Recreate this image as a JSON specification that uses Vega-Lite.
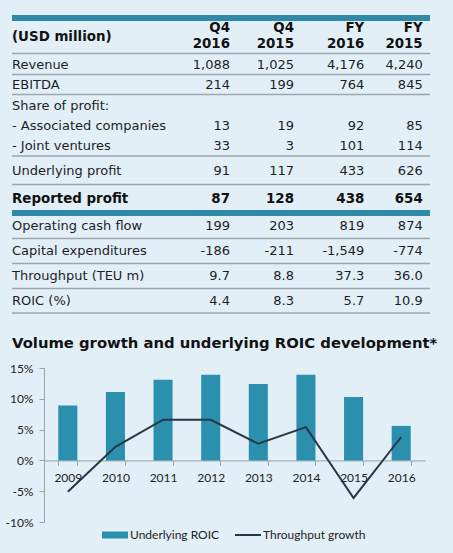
{
  "$schema": "https://vega.github.io/schema/vega-lite/v6.json",
  "width": 381,
  "height": 522,
  "autosize": {"type": "none"},
  "padding": {"left": 44, "top": 0, "right": 28, "bottom": 31},
  "background": "#e2eff7",
  "config": {"view": {"stroke": null}},
  "datasets": {
    "cells": [
      {"r": 1, "c": 1, "t": "Q4"}, {"r": 1, "c": 2, "t": "Q4"}, {"r": 1, "c": 3, "t": "FY"}, {"r": 1, "c": 4, "t": "FY"},
      {"r": 2, "c": 0, "t": "(USD million)"},
      {"r": 3, "c": 1, "t": "2016"}, {"r": 3, "c": 2, "t": "2015"}, {"r": 3, "c": 3, "t": "2016"}, {"r": 3, "c": 4, "t": "2015"},
      {"r": 5, "c": 0, "t": "Revenue"}, {"r": 5, "c": 1, "t": "1,088"}, {"r": 5, "c": 2, "t": "1,025"}, {"r": 5, "c": 3, "t": "4,176"}, {"r": 5, "c": 4, "t": "4,240"},
      {"r": 7, "c": 0, "t": "EBITDA"}, {"r": 7, "c": 1, "t": "214"}, {"r": 7, "c": 2, "t": "199"}, {"r": 7, "c": 3, "t": "764"}, {"r": 7, "c": 4, "t": "845"},
      {"r": 9, "c": 0, "t": "Share of profit:"},
      {"r": 10, "c": 0, "t": "- Associated companies"}, {"r": 10, "c": 1, "t": "13"}, {"r": 10, "c": 2, "t": "19"}, {"r": 10, "c": 3, "t": "92"}, {"r": 10, "c": 4, "t": "85"},
      {"r": 11, "c": 0, "t": "- Joint ventures"}, {"r": 11, "c": 1, "t": "33"}, {"r": 11, "c": 2, "t": "3"}, {"r": 11, "c": 3, "t": "101"}, {"r": 11, "c": 4, "t": "114"},
      {"r": 13, "c": 0, "t": "Underlying profit"}, {"r": 13, "c": 1, "t": "91"}, {"r": 13, "c": 2, "t": "117"}, {"r": 13, "c": 3, "t": "433"}, {"r": 13, "c": 4, "t": "626"},
      {"r": 15, "c": 0, "t": "Reported profit"}, {"r": 15, "c": 1, "t": "87"}, {"r": 15, "c": 2, "t": "128"}, {"r": 15, "c": 3, "t": "438"}, {"r": 15, "c": 4, "t": "654"},
      {"r": 17, "c": 0, "t": "Operating cash flow"}, {"r": 17, "c": 1, "t": "199"}, {"r": 17, "c": 2, "t": "203"}, {"r": 17, "c": 3, "t": "819"}, {"r": 17, "c": 4, "t": "874"},
      {"r": 19, "c": 0, "t": "Capital expenditures"}, {"r": 19, "c": 1, "t": "-186"}, {"r": 19, "c": 2, "t": "-211"}, {"r": 19, "c": 3, "t": "-1,549"}, {"r": 19, "c": 4, "t": "-774"},
      {"r": 21, "c": 0, "t": "Throughput (TEU m)"}, {"r": 21, "c": 1, "t": "9.7"}, {"r": 21, "c": 2, "t": "8.8"}, {"r": 21, "c": 3, "t": "37.3"}, {"r": 21, "c": 4, "t": "36.0"},
      {"r": 23, "c": 0, "t": "ROIC (%)"}, {"r": 23, "c": 1, "t": "4.4"}, {"r": 23, "c": 2, "t": "8.3"}, {"r": 23, "c": 3, "t": "5.7"}, {"r": 23, "c": 4, "t": "10.9"},
      {"r": 25, "c": 0, "t": "Volume growth and underlying ROIC development*"}
    ],
    "grayRules": [
      {"r": 4, "c": 0, "c2": 5}, {"r": 6, "c": 0, "c2": 5}, {"r": 8, "c": 0, "c2": 5}, {"r": 12, "c": 0, "c2": 5},
      {"r": 14, "c": 0, "c2": 5}, {"r": 18, "c": 0, "c2": 5}, {"r": 20, "c": 0, "c2": 5}, {"r": 22, "c": 0, "c2": 5}, {"r": 24, "c": 0, "c2": 5}
    ],
    "tealRules": [{"r": 0, "c": 0, "c2": 5}, {"r": 16, "c": 0, "c2": 5}],
    "chart": [
      {"year": "2009", "roic": 8.9, "tp": -5.1},
      {"year": "2010", "roic": 11.1, "tp": 2.2},
      {"year": "2011", "roic": 13.1, "tp": 6.6},
      {"year": "2012", "roic": 13.9, "tp": 6.6},
      {"year": "2013", "roic": 12.4, "tp": 2.7},
      {"year": "2014", "roic": 13.9, "tp": 5.4},
      {"year": "2015", "roic": 10.3, "tp": -6.1},
      {"year": "2016", "roic": 5.6, "tp": 3.8}
    ]
  },
  "layer": [
    {
      "data": {"name": "cells"},
      "encoding": {
        "x": {"field": "c", "type": "quantitative", "axis": null,
              "scale": {"domain": [0, 1, 2, 3, 4, 5], "range": [-32, 186, 250, 320.3, 378.7, 386], "nice": false, "zero": false}},
        "y": {"field": "r", "type": "quantitative", "axis": null,
              "scale": {"domain": [0,1,2,3,4,5,6,7,8,9,10,11,12,13,14,15,16,17,18,19,20,21,22,23,24,25],
                        "range": [17.9,28,37,44,53.5,65,74.5,85,94.5,106,126,146,156,171,184.5,199,213,226,238.5,251,263.5,276,288.5,301,313,343.7],
                        "nice": false, "zero": false}}
      },
      "layer": [
        {
          "data": {"name": "grayRules"},
          "mark": {"type": "rule", "color": "#9ea6ac", "strokeWidth": 1.5},
          "encoding": {"x2": {"field": "c2"}}
        },
        {
          "data": {"name": "tealRules"},
          "mark": {"type": "rule", "color": "#3189a8", "strokeWidth": 6},
          "encoding": {"x2": {"field": "c2"}}
        },
        {
          "transform": [{"filter": "datum.c === 0 && datum.r !== 2 && datum.r !== 15 && datum.r !== 25"}],
          "mark": {"type": "text", "align": "left", "baseline": "middle", "font": "DejaVu Sans", "fontSize": 13, "color": "#1e1e1e"},
          "encoding": {"text": {"field": "t"}}
        },
        {
          "transform": [{"filter": "datum.c > 0 && datum.r > 3 && datum.r !== 15"}],
          "mark": {"type": "text", "align": "right", "baseline": "middle", "font": "DejaVu Sans", "fontSize": 13, "color": "#1e1e1e"},
          "encoding": {"text": {"field": "t"}}
        },
        {
          "transform": [{"filter": "datum.c === 0 && (datum.r === 2 || datum.r === 15)"}],
          "mark": {"type": "text", "align": "left", "baseline": "middle", "font": "DejaVu Sans", "fontWeight": "bold", "fontSize": 13.4, "color": "#111111"},
          "encoding": {"text": {"field": "t"}}
        },
        {
          "transform": [{"filter": "datum.c > 0 && (datum.r <= 3 || datum.r === 15)"}],
          "mark": {"type": "text", "align": "right", "baseline": "middle", "font": "DejaVu Sans", "fontWeight": "bold", "fontSize": 13.4, "color": "#111111"},
          "encoding": {"text": {"field": "t"}}
        },
        {
          "transform": [{"filter": "datum.r === 25"}],
          "mark": {"type": "text", "align": "left", "baseline": "middle", "font": "DejaVu Sans", "fontWeight": "bold", "fontSize": 14.8, "color": "#111111"},
          "encoding": {"text": {"field": "t"}}
        }
      ]
    },
    {
      "data": {"name": "chart"},
      "encoding": {
        "x": {"field": "year", "type": "nominal",
              "scale": {"paddingInner": 0.6, "paddingOuter": 0.3},
              "axis": {"title": null, "orient": "bottom", "offset": -61.6, "labelAngle": 0,
                       "labelFont": "Lato", "labelFontSize": 12, "labelColor": "#222222",
                       "domainColor": "#9aa3a8", "tickColor": "#9aa3a8", "tickBand": "extent",
                       "tickSize": 5, "labelPadding": 7}}
      },
      "layer": [
        {
          "mark": {"type": "bar"},
          "encoding": {
            "y": {"field": "roic", "type": "quantitative",
                  "scale": {"domain": [-10, 15], "range": [522, 368], "nice": false},
                  "axis": {"title": null, "orient": "left", "values": [-10, -5, 0, 5, 10, 15],
                           "labelExpr": "datum.value + '%'", "grid": false,
                           "labelFont": "Lato", "labelFontSize": 12, "labelColor": "#222222",
                           "domainColor": "#9aa3a8", "tickColor": "#9aa3a8", "tickSize": 5, "labelPadding": 6}},
            "color": {"datum": "Underlying ROIC", "type": "nominal",
                      "scale": {"domain": ["Underlying ROIC", "Throughput growth"], "range": ["#2b8fae", "#263746"]},
                      "legend": {"title": null, "orient": "none", "legendX": 65, "legendY": 529, "direction": "horizontal",
                                 "labelFont": "Lato", "labelFontSize": 12, "labelColor": "#222222",
                                 "symbolSize": 676, "labelOffset": 9, "columnPadding": 11,
                                 "encode": {"symbols": {"update": {
                                   "shape": {"signal": "datum.value === 'Underlying ROIC' ? 'M-1,-0.27H1V0.27H-1Z' : 'M-1,0H1'"},
                                   "fill": {"signal": "datum.value === 'Underlying ROIC' ? '#2b8fae' : 'transparent'"},
                                   "stroke": {"signal": "datum.value === 'Underlying ROIC' ? 'transparent' : '#263746'"},
                                   "strokeWidth": {"signal": "datum.value === 'Underlying ROIC' ? 0 : 2"},
                                   "opacity": {"value": 1}
                                 }}}}}
          }
        },
        {
          "mark": {"type": "line", "strokeWidth": 2},
          "encoding": {
            "y": {"field": "tp", "type": "quantitative"},
            "color": {"datum": "Throughput growth", "type": "nominal"}
          }
        }
      ]
    }
  ],
  "resolve": {"scale": {"x": "independent", "y": "independent"}}
}
